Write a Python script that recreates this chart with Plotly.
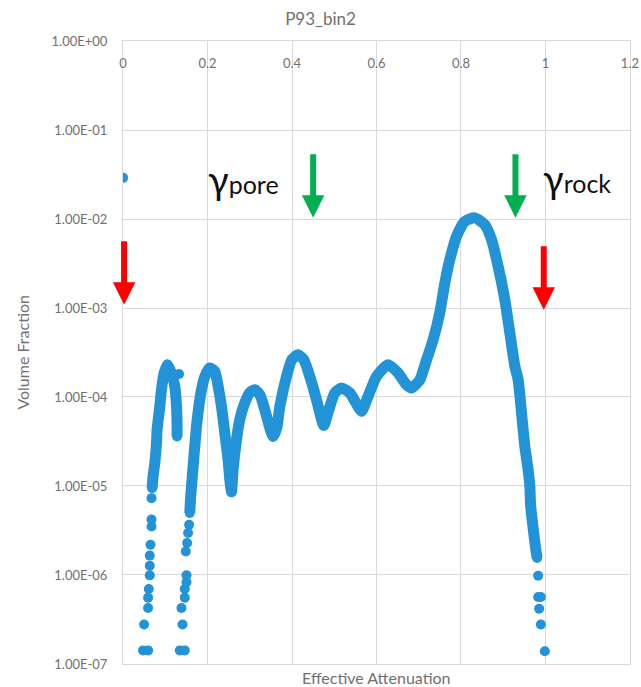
import numpy as np
import plotly.graph_objects as go

BLUE = "#2393D7"
GRID = "#D9D9D9"
TEXT_GREY = "#707070"
FONT = "Lato"

# Single bin at zero attenuation
zero_x = [0.0]
zero_y = [0.029]

# Sparse low-attenuation bins below the first two small peaks
sparse_left_x = [0.0473, 0.0592, 0.0497, 0.0592, 0.0592, 0.0609, 0.0632, 0.0632, 0.0632,
                 0.0649, 0.0673, 0.0673, 0.0673, 0.0687, 0.1326,
                 0.1343, 0.1461, 0.1407, 0.1383, 0.1461, 0.1461, 0.1501, 0.1501, 0.1485,
                 0.1516, 0.1539, 0.1563]
sparse_left_y = [1.42e-7, 1.42e-7, 2.77e-7, 4.26e-7, 5.56e-7, 6.97e-7, 9.9e-7, 1.27e-6, 1.65e-6,
                 2.19e-6, 3.5e-6, 4.2e-6, 7.3e-6, 9.5e-6, 1.81e-4,
                 1.42e-7, 1.42e-7, 2.77e-7, 4.26e-7, 5.56e-7, 6.97e-7, 8.3e-7, 9.9e-7, 1.84e-6,
                 2.29e-6, 2.96e-6, 3.67e-6]

# First small peak (dense bins)
peak1_x = [0.0687, 0.0710, 0.0751, 0.0791, 0.0805, 0.0869, 0.0909, 0.0971, 0.1051,
           0.1146, 0.1224, 0.1265, 0.1279, 0.1279]
peak1_y = [9.5e-6, 1.28e-5, 1.81e-5, 3.04e-5, 4.3e-5, 7.8e-5, 1.21e-4, 1.86e-4, 2.31e-4,
           1.86e-4, 1.32e-4, 7.8e-5, 4.7e-5, 3.6e-5]

# Main distribution: pore-range oscillations up to the rock peak and its falling flank
main_x = [0.1579, 0.1596, 0.1620, 0.1658, 0.1698, 0.1738, 0.1793, 0.1857, 0.1935, 0.2053,
          0.2171, 0.2250, 0.2330, 0.2408, 0.2486, 0.2527, 0.2567, 0.2605, 0.2685, 0.2763,
          0.2882, 0.3000, 0.3119, 0.3237, 0.3355, 0.3474, 0.3552, 0.3640, 0.3711, 0.3869,
          0.3995, 0.4144, 0.4279, 0.4421, 0.4580, 0.4698, 0.4752, 0.4895, 0.5013, 0.5172,
          0.5368, 0.5565, 0.5645, 0.5802, 0.6000, 0.6275, 0.6512, 0.6711, 0.6829, 0.7026,
          0.7185, 0.7341, 0.7499, 0.7618, 0.7736, 0.7895, 0.8091, 0.8328, 0.8565, 0.8724,
          0.8880, 0.9039, 0.9157, 0.9276, 0.9354, 0.9434, 0.9512, 0.9590, 0.9631, 0.9647,
          0.9694, 0.9732, 0.9773, 0.9803]
main_y = [4.97e-6, 7.0e-6, 9.9e-6, 1.66e-5, 2.79e-5, 4.68e-5, 7.8e-5, 1.21e-4, 1.70e-4, 2.12e-4,
          1.94e-4, 1.32e-4, 7.8e-5, 3.94e-5, 1.98e-5, 1.18e-5, 8.6e-6, 1.52e-5, 3.3e-5, 5.6e-5,
          8.6e-5, 1.12e-4, 1.21e-4, 1.06e-4, 7.2e-5, 4.5e-5, 3.6e-5, 4.5e-5, 7.8e-5, 1.70e-4,
          2.62e-4, 2.99e-4, 2.62e-4, 1.70e-4, 9.3e-5, 5.6e-5, 4.8e-5, 7.8e-5, 1.11e-4, 1.26e-4,
          1.11e-4, 7.8e-5, 6.9e-5, 1.02e-4, 1.70e-4, 2.31e-4, 1.86e-4, 1.37e-4, 1.26e-4, 1.56e-4,
          2.62e-4, 4.4e-4, 8.9e-4, 1.91e-3, 3.49e-3, 6.38e-3, 9.4e-3, 1.03e-2, 8.6e-3, 5.85e-3,
          2.93e-3, 1.24e-3, 5.24e-4, 2.21e-4, 1.56e-4, 6.6e-5, 2.79e-5, 1.52e-5, 9.9e-6, 6.2e-6,
          3.84e-6, 2.72e-6, 1.92e-6, 1.55e-6]

# Sparse high-attenuation tail
tail_x = [0.9827, 0.9827, 0.9891, 0.9851, 0.9891, 0.9986]
tail_y = [9.8e-7, 5.66e-7, 5.66e-7, 4.18e-7, 2.77e-7, 1.39e-7]

# Axis ticks
x_ticks = [0, 0.2, 0.4, 0.6, 0.8, 1.0, 1.2]
x_tick_text = ["0", "0.2", "0.4", "0.6", "0.8", "1", "1.2"]
y_ticks = [1e-7, 1e-6, 1e-5, 1e-4, 1e-3, 1e-2, 1e-1, 1e0]
y_tick_text = ["1.00E-07", "1.00E-06", "1.00E-05", "1.00E-04",
               "1.00E-03", "1.00E-02", "1.00E-01", "1.00E+00"]

# Marker arrows: (x, tail value, tip value, colour)
arrows = [
    (0.0024, 10 ** -2.233, 10 ** -2.964, "#FF0000"),
    (0.450, 10 ** -1.255, 10 ** -1.985, "#00B050"),
    (0.929, 10 ** -1.255, 10 ** -1.985, "#00B050"),
    (0.996, 10 ** -2.289, 10 ** -3.019, "#FF0000"),
]

# Threshold labels: (x, y, subscript)
labels = [(0.286, 10 ** -1.545, "pore"), (1.074, 10 ** -1.535, "rock")]

MARKER = dict(color=BLUE, size=10, line=dict(width=0))
LINE = dict(color=BLUE, width=11, shape="spline", smoothing=0.6)

fig = go.Figure()
fig.add_trace(go.Scatter(x=zero_x, y=zero_y, mode="markers", marker=MARKER))
fig.add_trace(go.Scatter(x=sparse_left_x, y=sparse_left_y, mode="markers", marker=MARKER))
fig.add_trace(go.Scatter(x=peak1_x, y=peak1_y, mode="lines+markers", marker=MARKER, line=LINE))
fig.add_trace(go.Scatter(x=main_x, y=main_y, mode="lines+markers", marker=MARKER, line=LINE))
fig.add_trace(go.Scatter(x=tail_x, y=tail_y, mode="markers", marker=MARKER))

annotations = []
for ax_x, y_from, y_to, col in arrows:
    annotations.append(dict(
        x=ax_x, y=np.log10(y_to), ax=ax_x, ay=np.log10(y_from),
        xref="x", yref="y", axref="x", ayref="y",
        showarrow=True, arrowhead=2, arrowsize=0.75, arrowwidth=6,
        arrowcolor=col, text="", standoff=0, startstandoff=0,
    ))
for lx, ly, sub in labels:
    annotations.append(dict(
        x=lx, y=np.log10(ly), xref="x", yref="y", showarrow=False,
        text=f"<span style='font-size:38px'>γ</span>{sub}",
        font=dict(family=FONT, size=25, color="#111111"),
        xanchor="center", yanchor="middle",
    ))
annotations.append(dict(
    text="Effective Attenuation", x=0.5, y=-0.003, xref="paper", yref="paper",
    xanchor="center", yanchor="top", showarrow=False,
    font=dict(family=FONT, size=16, color=TEXT_GREY),
))
annotations.append(dict(
    text="Volume Fraction", x=-0.199, y=0.5, xref="paper", yref="paper",
    xanchor="center", yanchor="middle", textangle=-90, showarrow=False,
    font=dict(family=FONT, size=16, color=TEXT_GREY),
))

fig.update_layout(
    width=641, height=687,
    margin=dict(l=123, r=11, t=41, b=23, autoexpand=False),
    paper_bgcolor="white", plot_bgcolor="white",
    showlegend=False,
    title=dict(text="P93_bin2", x=0.5, xref="container", y=1 - 19 / 687,
               yref="container", xanchor="center", yanchor="middle",
               font=dict(family=FONT, size=17, color=TEXT_GREY)),
    annotations=annotations,
    xaxis=dict(
        range=[-0.0002, 1.2002], side="top", tickvals=x_ticks, ticktext=x_tick_text,
        ticklabelposition="inside", ticklabeloverflow="allow", ticklabelstandoff=18,
        automargin=False, ticks="", showgrid=True, gridcolor=GRID,
        showline=True, linecolor=GRID, mirror=True, zeroline=False,
        tickfont=dict(family=FONT, size=13, color=TEXT_GREY),
    ),
    yaxis=dict(
        type="log", range=[-7.0005, 0.0005], tickvals=y_ticks, ticktext=y_tick_text,
        ticklabeloverflow="allow", automargin=False,
        ticks="", showgrid=True, gridcolor=GRID, showline=True, linecolor=GRID,
        mirror=True, zeroline=False, ticklabelstandoff=12,
        tickfont=dict(family=FONT, size=13, color=TEXT_GREY),
    ),
)

fig.write_html("out.html")
